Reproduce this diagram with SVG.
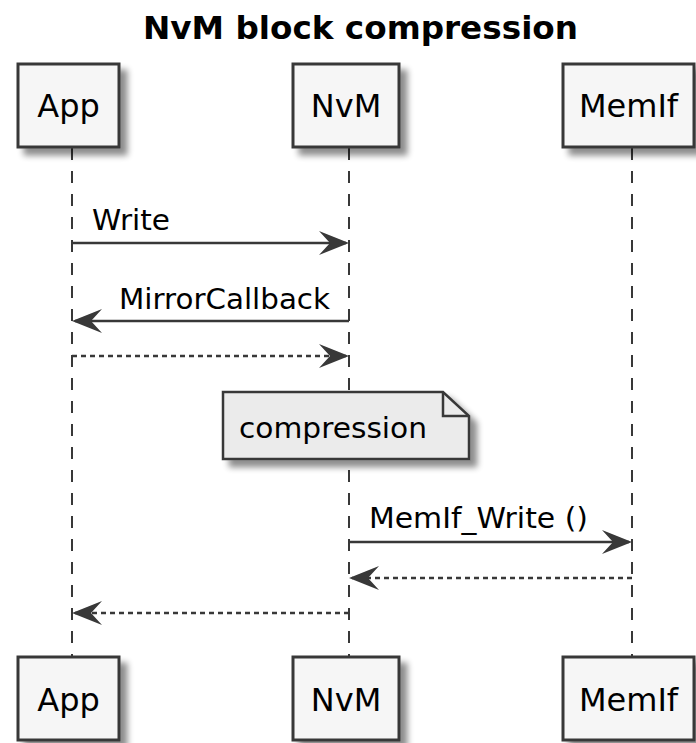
<svg xmlns="http://www.w3.org/2000/svg" width="696" height="743" viewBox="0 0 696 743">
<style>
.box{fill:#F6F6F6;stroke:#383838;stroke-width:3;}
.note{fill:#EBEBEB;stroke:#383838;stroke-width:2.5;}
.life{stroke:#383838;stroke-width:2;stroke-dasharray:12,11;fill:none;}
.msg{stroke:#383838;stroke-width:2.5;fill:none;}
.dash{stroke-dasharray:5,4;}
.ptxt{font-family:"DejaVu Sans",sans-serif;font-size:32px;fill:#000;text-anchor:middle;}
.mtxt{font-family:"DejaVu Sans",sans-serif;font-size:29px;fill:#000;}
.title{font-family:"DejaVu Sans",sans-serif;font-size:32.6px;font-weight:bold;fill:#000;}
</style>
<defs>
<filter id="sh" x="-20%" y="-20%" width="150%" height="150%">
<feGaussianBlur in="SourceAlpha" stdDeviation="3"/>
<feOffset dx="7" dy="7" result="b"/>
<feComponentTransfer><feFuncA type="linear" slope="0.45"/></feComponentTransfer>
<feMerge><feMergeNode/><feMergeNode in="SourceGraphic"/></feMerge>
</filter>
<marker id="ah" markerUnits="userSpaceOnUse" markerWidth="32" markerHeight="26" refX="28" refY="12" orient="auto" overflow="visible">
<path d="M31,12 L1,0 L12,12 L1,24 Z" fill="#383838"/>
</marker>
</defs>

<text class="title" x="143" y="39" textLength="435" lengthAdjust="spacingAndGlyphs">NvM block compression</text>

<g id="lifelines">
<line class="life" x1="72" y1="148" x2="72" y2="657"/>
<line class="life" x1="349" y1="148" x2="349" y2="657"/>
<line class="life" x1="632" y1="148" x2="632" y2="657"/>
</g>

<g id="App-top"><rect class="box" x="18" y="64" width="101" height="83" filter="url(#sh)"/><text class="ptxt" x="68.5" y="117">App</text></g>
<g id="NvM-top"><rect class="box" x="293" y="64" width="106" height="83" filter="url(#sh)"/><text class="ptxt" x="346" y="117">NvM</text></g>
<g id="MemIf-top"><rect class="box" x="563" y="64" width="131" height="83" filter="url(#sh)"/><text class="ptxt" x="628.5" y="117">MemIf</text></g>

<g id="App-bottom"><rect class="box" x="18" y="657" width="101" height="83" filter="url(#sh)"/><text class="ptxt" x="68.5" y="711">App</text></g>
<g id="NvM-bottom"><rect class="box" x="293" y="657" width="106" height="83" filter="url(#sh)"/><text class="ptxt" x="346" y="711">NvM</text></g>
<g id="MemIf-bottom"><rect class="box" x="563" y="657" width="131" height="83" filter="url(#sh)"/><text class="ptxt" x="628.5" y="711">MemIf</text></g>

<g id="note-compression">
<path class="note" d="M223,392 L443,392 L469,416 L469,459 L223,459 Z" filter="url(#sh)"/>
<path class="note" d="M443,392 L443,416 L469,416" fill="none" style="fill:none"/>
<text class="mtxt" x="239" y="438" textLength="188" lengthAdjust="spacingAndGlyphs">compression</text>
</g>

<g id="connectors">
<line class="msg" x1="72" y1="243" x2="346" y2="243" marker-end="url(#ah)"/>
<text class="mtxt" x="92" y="230" textLength="78" lengthAdjust="spacingAndGlyphs">Write</text>
<line class="msg" x1="349" y1="321" x2="75" y2="321" marker-end="url(#ah)"/>
<text class="mtxt" x="119" y="309" textLength="211" lengthAdjust="spacingAndGlyphs">MirrorCallback</text>
<line class="msg dash" x1="72" y1="356" x2="346" y2="356" marker-end="url(#ah)"/>
<line class="msg" x1="349" y1="542" x2="629" y2="542" marker-end="url(#ah)"/>
<text class="mtxt" x="369" y="528" textLength="219" lengthAdjust="spacingAndGlyphs">MemIf_Write ()</text>
<line class="msg dash" x1="632" y1="578" x2="352" y2="578" marker-end="url(#ah)"/>
<line class="msg dash" x1="349" y1="613" x2="75" y2="613" marker-end="url(#ah)"/>
</g>
</svg>
